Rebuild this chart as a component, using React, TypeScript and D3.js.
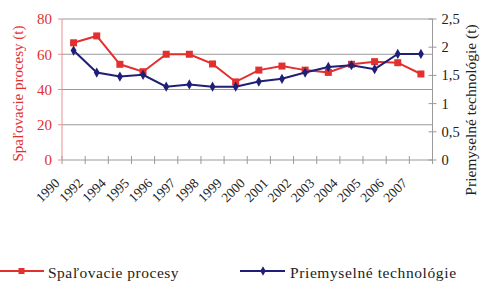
import React from "react";
import * as d3 from "d3";

const years = ["1990","1992","1994","1995","1996","1997","1998","1999","2000","2001","2002","2003","2004","2005","2006","2007"];
const spalovacie = [66.5, 70.4, 54.3, 50.1, 60, 60, 54.5, 44.3, 51, 53.3, 51, 49.7, 54.3, 55.8, 55.2, 48.8];
const priemyselne = [1.94, 1.55, 1.48, 1.51, 1.3, 1.34, 1.3, 1.3, 1.39, 1.44, 1.55, 1.65, 1.68, 1.61, 1.88, 1.88];
const leftTicks = [0, 20, 40, 60, 80];
const rightTicks = [0, 0.5, 1, 1.5, 2, 2.5];

const RED = "#e2302e";
const BLUE = "#1f1f78";
const GRID = "#9a9a9a";
const F = { fontFamily: "Liberation Serif" };

export default function App() {
  const W = 486, H = 282;
  const left = 62, right = 432.5, top = 19, bottom = 160;
  const x = d3.scaleBand<string>().domain(years).range([left, right]);
  const yL = d3.scaleLinear().domain([0, 80]).range([bottom, top]);
  const yR = d3.scaleLinear().domain([0, 2.5]).range([bottom, top]);
  const cx = (d: string) => (x(d) as number) + x.bandwidth() / 2;
  const lineL = d3.line<number>().x((_, i) => cx(years[i])).y((v) => yL(v));
  const lineR = d3.line<number>().x((_, i) => cx(years[i])).y((v) => yR(v));
  const fmt = (v: number) => String(v).replace(".", ",");
  const boundaries = [...years.map((d) => x(d) as number), right];

  return (
    <svg width={W} height={H} style={{ position: "absolute", left: 0, top: 0 }}>
      <rect width={W} height={H} fill="#fff" />
      {leftTicks.filter((t) => t > 0).map((t) => (
        <line key={t} x1={left} x2={right} y1={yL(t)} y2={yL(t)} stroke={GRID} strokeWidth={1} />
      ))}
      {/* bottom axis */}
      <line x1={left} x2={right} y1={bottom} y2={bottom} stroke={GRID} />
      {boundaries.map((b, i) => (
        <line key={i} x1={b} x2={b} y1={bottom - 4} y2={bottom + 4} stroke={GRID} />
      ))}
      {years.map((d) => (
        <text key={d} style={F} transform={`translate(${cx(d) - 13},${bottom + 24}) rotate(-45)`} textAnchor="end" fontSize={13.5} fill="#222">{d}</text>
      ))}
      {/* left axis */}
      <line x1={left} x2={left} y1={top} y2={bottom} stroke="#e89090" />
      {leftTicks.map((t) => (
        <g key={t}>
          <line x1={left - 4} x2={left} y1={yL(t)} y2={yL(t)} stroke="#e89090" />
          <text style={F} x={left - 10} y={yL(t)} dy="0.35em" textAnchor="end" fontSize={15} fill={RED}>{t}</text>
        </g>
      ))}
      <text style={F} transform={`translate(23,${(top + bottom) / 2 + 4}) rotate(-90)`} textAnchor="middle" fontSize={15} fill={RED}>Spaľovacie procesy (t)</text>
      {/* right axis */}
      <line x1={right} x2={right} y1={top} y2={bottom} stroke={GRID} />
      {rightTicks.map((t) => (
        <g key={t}>
          <line x1={right - 4} x2={right + 4} y1={yR(t)} y2={yR(t)} stroke={GRID} />
          <text style={F} x={right + 9} y={yR(t)} dy="0.35em" textAnchor="start" fontSize={14.5} fill="#222">{fmt(t)}</text>
        </g>
      ))}
      <text style={F} transform={`translate(476,110) rotate(-90)`} textAnchor="middle" fontSize={15.5} fill="#222">Priemyselné technológie (t)</text>
      {/* series */}
      <path d={lineL(spalovacie) ?? ""} fill="none" stroke={RED} strokeWidth={2} />
      {spalovacie.map((v, i) => (
        <rect key={i} x={cx(years[i]) - 3.5} y={yL(v) - 3.5} width={7} height={7} fill={RED} />
      ))}
      <path d={lineR(priemyselne) ?? ""} fill="none" stroke={BLUE} strokeWidth={2} />
      {priemyselne.map((v, i) => (
        <path key={i} d={d3.symbol(d3.symbolDiamond, 30)() ?? ""} transform={`translate(${cx(years[i])},${yR(v)})`} fill={BLUE} />
      ))}
      {/* legend */}
      <line x1={0} x2={44} y1={271} y2={271} stroke={RED} strokeWidth={2} />
      <rect x={18.5} y={268} width={6} height={6} fill={RED} />
      <text style={F} x={48} y={278} fontSize={15.5} letterSpacing={0.5} fill="#222">Spaľovacie procesy</text>
      <line x1={240} x2={285} y1={271} y2={271} stroke={BLUE} strokeWidth={2} />
      <path d={d3.symbol(d3.symbolDiamond, 26)() ?? ""} transform="translate(263,271)" fill={BLUE} />
      <text style={F} x={290} y={278} fontSize={15.5} letterSpacing={0.6} fill="#222">Priemyselné technológie</text>
    </svg>
  );
}
